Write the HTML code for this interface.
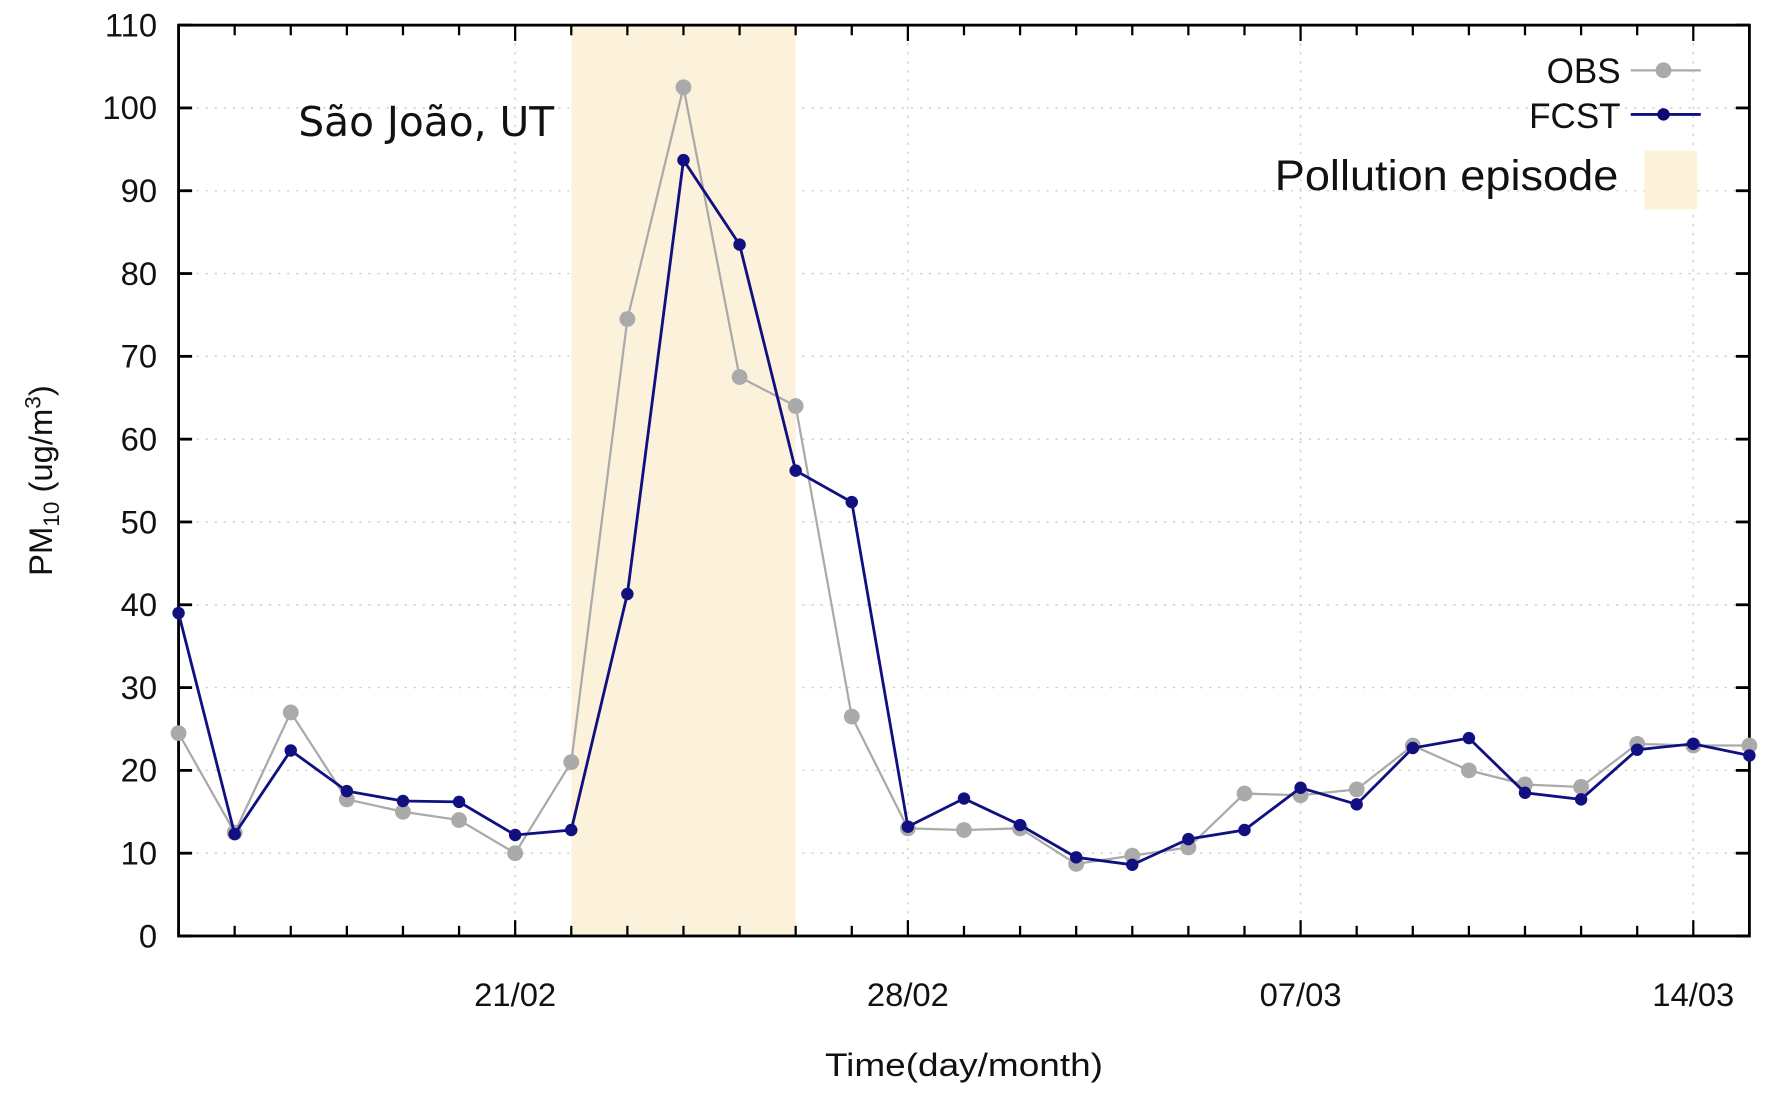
<!DOCTYPE html>
<html><head><meta charset="utf-8"><style>
html,body{margin:0;padding:0;background:#fff;}
svg{display:block;font-family:"Liberation Sans",sans-serif;}
</style></head><body>
<svg id="chart" width="1772" height="1099" viewBox="0 0 1568 972" xmlns="http://www.w3.org/2000/svg">
<g id="grid"></g>
<rect id="episode" fill="#fcf2dc"/>
<g id="axes"></g>
<g id="series"></g>
<text x="264" y="120" font-size="36" font-family="DejaVu Sans, sans-serif" fill="#111">São João, UT</text>
<text x="853" y="952" font-size="29" text-anchor="middle" textLength="246" lengthAdjust="spacingAndGlyphs" fill="#111">Time(day/month)</text>
<text transform="translate(46,425) rotate(-90)" font-size="29" text-anchor="middle" fill="#111">PM<tspan font-size="20" dy="6">10</tspan><tspan dy="-6"> (ug/m</tspan><tspan font-size="20" dy="-10">3</tspan><tspan dy="10">)</tspan></text>
<g>
<text x="1434" y="73" font-size="31" text-anchor="end" fill="#111">OBS</text>
<line x1="1443" y1="62" x2="1505" y2="62" stroke="#aaa" stroke-width="2"/>
<circle cx="1472" cy="62" r="7" fill="#aaa"/>
<text x="1434" y="113" font-size="31" text-anchor="end" fill="#111">FCST</text>
<line x1="1443" y1="101" x2="1505" y2="101" stroke="#101080" stroke-width="2.5"/>
<circle cx="1472" cy="101" r="5.5" fill="#0a0a70"/>
<text x="1432" y="168" font-size="38" text-anchor="end" textLength="304" lengthAdjust="spacingAndGlyphs" fill="#111">Pollution episode</text>
<rect x="1455" y="133" width="47" height="52" fill="#fcf2dc"/>
</g>
</svg>
<script>
const days = ["15/02","16/02","17/02","18/02","19/02","20/02","21/02","22/02","23/02","24/02","25/02","26/02","27/02","28/02","01/03","02/03","03/03","04/03","05/03","06/03","07/03","08/03","09/03","10/03","11/03","12/03","13/03","14/03","15/03"];
const obs = [24.5,12.5,27,16.5,15,14,10,21,74.5,102.5,67.5,64,26.5,13,12.8,13,8.7,9.7,10.7,17.2,17,17.7,23,20,18.3,18,23.2,23,23];
const fcst = [39,12.3,22.4,17.5,16.3,16.2,12.2,12.8,41.3,93.7,83.5,56.2,52.4,13.2,16.6,13.4,9.5,8.6,11.7,12.8,17.9,15.9,22.7,23.9,17.3,16.5,22.5,23.2,21.8];
const yTicks = [0,10,20,30,40,50,60,70,80,90,100,110];
const xLabels = ["21/02","28/02","07/03","14/03"];
const episode = ["22/02","26/02"];

const L=158,R=1548,T=22,B=828,ymax=110;
const step=(1548-158)/28;
const NS="http://www.w3.org/2000/svg";
function x(i){return L+i*step;}
function y(v){return B-(v/ymax)*(B-T);}
function mk(tag,attrs,parent){const e=document.createElementNS(NS,tag);for(const k in attrs)e.setAttribute(k,attrs[k]);parent.appendChild(e);return e;}
const grid=document.getElementById('grid'),axes=document.getElementById('axes'),ser=document.getElementById('series');
const ep=document.getElementById('episode');
ep.setAttribute('x',x(days.indexOf(episode[0])));ep.setAttribute('y',T);
ep.setAttribute('width',x(days.indexOf(episode[1]))-x(days.indexOf(episode[0])));ep.setAttribute('height',B-T);
yTicks.forEach(v=>{
  if(v>0&&v<ymax){const g=mk('line',{x1:L,x2:R,y1:y(v),y2:y(v),stroke:'#ccc','stroke-width':1.2,'stroke-dasharray':'2,6'},grid);
  
  }
  mk('line',{x1:L,x2:L+12,y1:y(v),y2:y(v),stroke:'#000','stroke-width':2.5},axes);
  mk('line',{x1:R-12,x2:R,y1:y(v),y2:y(v),stroke:'#000','stroke-width':2.5},axes);
  const t=mk('text',{x:139,y:y(v)+10,'font-size':29,'text-anchor':'end',fill:'#111'},axes);
  
  
  t.textContent=v;
});
days.forEach((d,i)=>{
  const major=xLabels.includes(d);
  const len=major?14:9;
  mk('line',{x1:x(i),x2:x(i),y1:B,y2:B-len,stroke:'#000','stroke-width':2},axes);
  mk('line',{x1:x(i),x2:x(i),y1:T,y2:T+len,stroke:'#000','stroke-width':2},axes);
  if(major){
    const g=mk('line',{x1:x(i),x2:x(i),y1:T,y2:B,stroke:'#ccc','stroke-width':1.2,'stroke-dasharray':'2,6'},grid);
    
    
    const t=mk('text',{x:x(i),y:890,'font-size':29,'text-anchor':'middle',fill:'#111'},axes);
    
    
    t.textContent=d;
  }
});
mk('rect',{x:L,y:T,width:R-L,height:B-T,fill:'none',stroke:'#000','stroke-width':2.5},axes);
function series(vals,color,w,r,name){
  const p=mk('polyline',{points:vals.map((v,i)=>x(i)+','+y(v)).join(' '),fill:'none',stroke:color,'stroke-width':w},ser);
  
  
  vals.forEach((v,i)=>{const c=mk('circle',{cx:x(i),cy:y(v),r:r,fill:color},ser);
    
    });
}
series(obs,'#aaa',2,7,'obs');
series(fcst,'#101080',2.5,5.5,'fcst');
</script>
</body></html>
